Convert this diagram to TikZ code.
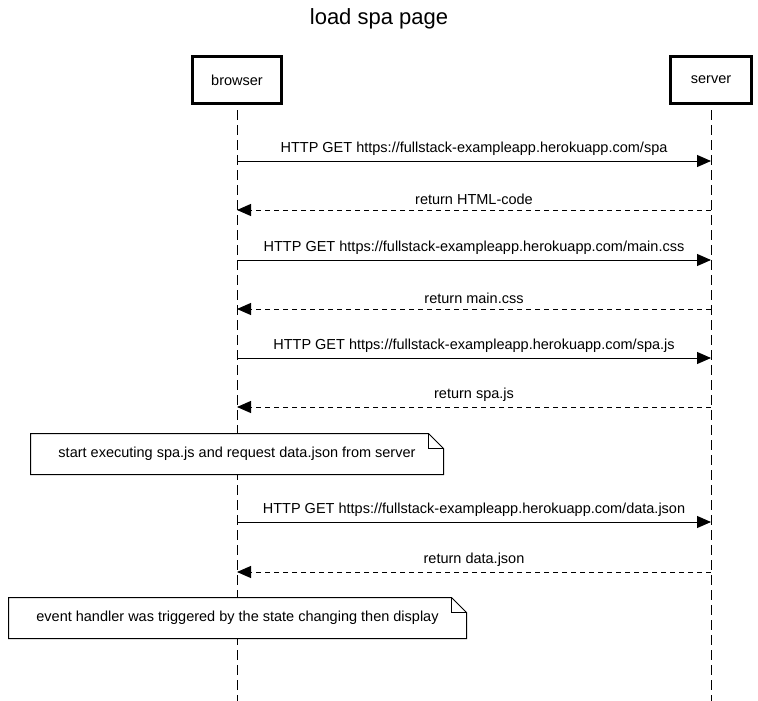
\documentclass[tikz,border=0pt]{standalone}
\usepackage{fontspec}
\setmainfont{Liberation Sans}
\usetikzlibrary{arrows.meta}

\begin{document}
\begin{tikzpicture}[x=1pt, y=-1pt, line width=1pt,
        every node/.append style={font=\fontsize{14.5}{17}\selectfont, inner sep=0pt},
        actor/.style={draw, line width=2.6pt, fill=white, minimum height=47pt},
        lifeline/.style={dash pattern=on 10pt off 5pt},
        call/.style={-{Triangle[length=14pt, width=12pt]}},
        reply/.style={-{Triangle[length=14pt, width=12pt]}, dash pattern=on 5pt off 4pt},
        memo/.style={minimum height=40pt}]
      \useasboundingbox (0,0) rectangle (758,701);
      \node (title) at (379,19) {\fontsize{22}{26}\selectfont load spa page};

      % lifelines
      \coordinate (browserend) at (237,701);
      \coordinate (serverend) at (711,701);
      \draw[lifeline] (237,80) -- (browserend);
      \draw[lifeline] (711,80) -- (serverend);

      \node (browser) [actor, minimum width=89pt] at (237,80) {browser};
      \node (server) [actor, minimum width=81pt] at (711,80) {server};

      % messages
      \coordinate (b1) at (237,161); \coordinate (s1) at (711,161);
      \coordinate (b2) at (237,210); \coordinate (s2) at (711,210);
      \coordinate (b3) at (237,260); \coordinate (s3) at (711,260);
      \coordinate (b4) at (237,309); \coordinate (s4) at (711,309);
      \coordinate (b5) at (237,358); \coordinate (s5) at (711,358);
      \coordinate (b6) at (237,407); \coordinate (s6) at (711,407);
      \coordinate (b7) at (237,522); \coordinate (s7) at (711,522);
      \coordinate (b8) at (237,572); \coordinate (s8) at (711,572);

      \draw[call] (b1) -- node[above=5pt] {HTTP GET https://fullstack-exampleapp.herokuapp.com/spa} (s1);
      \draw[reply] (s2) -- node[above=5pt] {return HTML-code} (b2);
      \draw[call] (b3) -- node[above=5pt] {HTTP GET https://fullstack-exampleapp.herokuapp.com/main.css} (s3);
      \draw[reply] (s4) -- node[above=5pt] {return main.css} (b4);
      \draw[call] (b5) -- node[above=5pt] {HTTP GET https://fullstack-exampleapp.herokuapp.com/spa.js} (s5);
      \draw[reply] (s6) -- node[above=5pt] {return spa.js} (b6);
      \draw[call] (b7) -- node[above=5pt] {HTTP GET https://fullstack-exampleapp.herokuapp.com/data.json} (s7);
      \draw[reply] (s8) -- node[above=5pt] {return data.json} (b8);

      % notes
      \node (execnote) [memo, minimum width=412pt] at (237,454) {};
      \draw[fill=white] (execnote.north west) -- ([xshift=-15pt]execnote.north east)
        -- ([yshift=-15pt]execnote.north east) -- (execnote.south east)
        -- (execnote.south west) -- cycle;
      \draw ([xshift=-15pt]execnote.north east) |- ([yshift=-15pt]execnote.north east);
      \node at (execnote) {start executing spa.js and request data.json from server};

      \node (rendernote) [memo, minimum width=457pt] at (237.5,618) {};
      \draw[fill=white] (rendernote.north west) -- ([xshift=-15pt]rendernote.north east)
        -- ([yshift=-15pt]rendernote.north east) -- (rendernote.south east)
        -- (rendernote.south west) -- cycle;
      \draw ([xshift=-15pt]rendernote.north east) |- ([yshift=-15pt]rendernote.north east);
      \node at (rendernote) {event handler was triggered by the state changing then display};
\end{tikzpicture}
\end{document}
